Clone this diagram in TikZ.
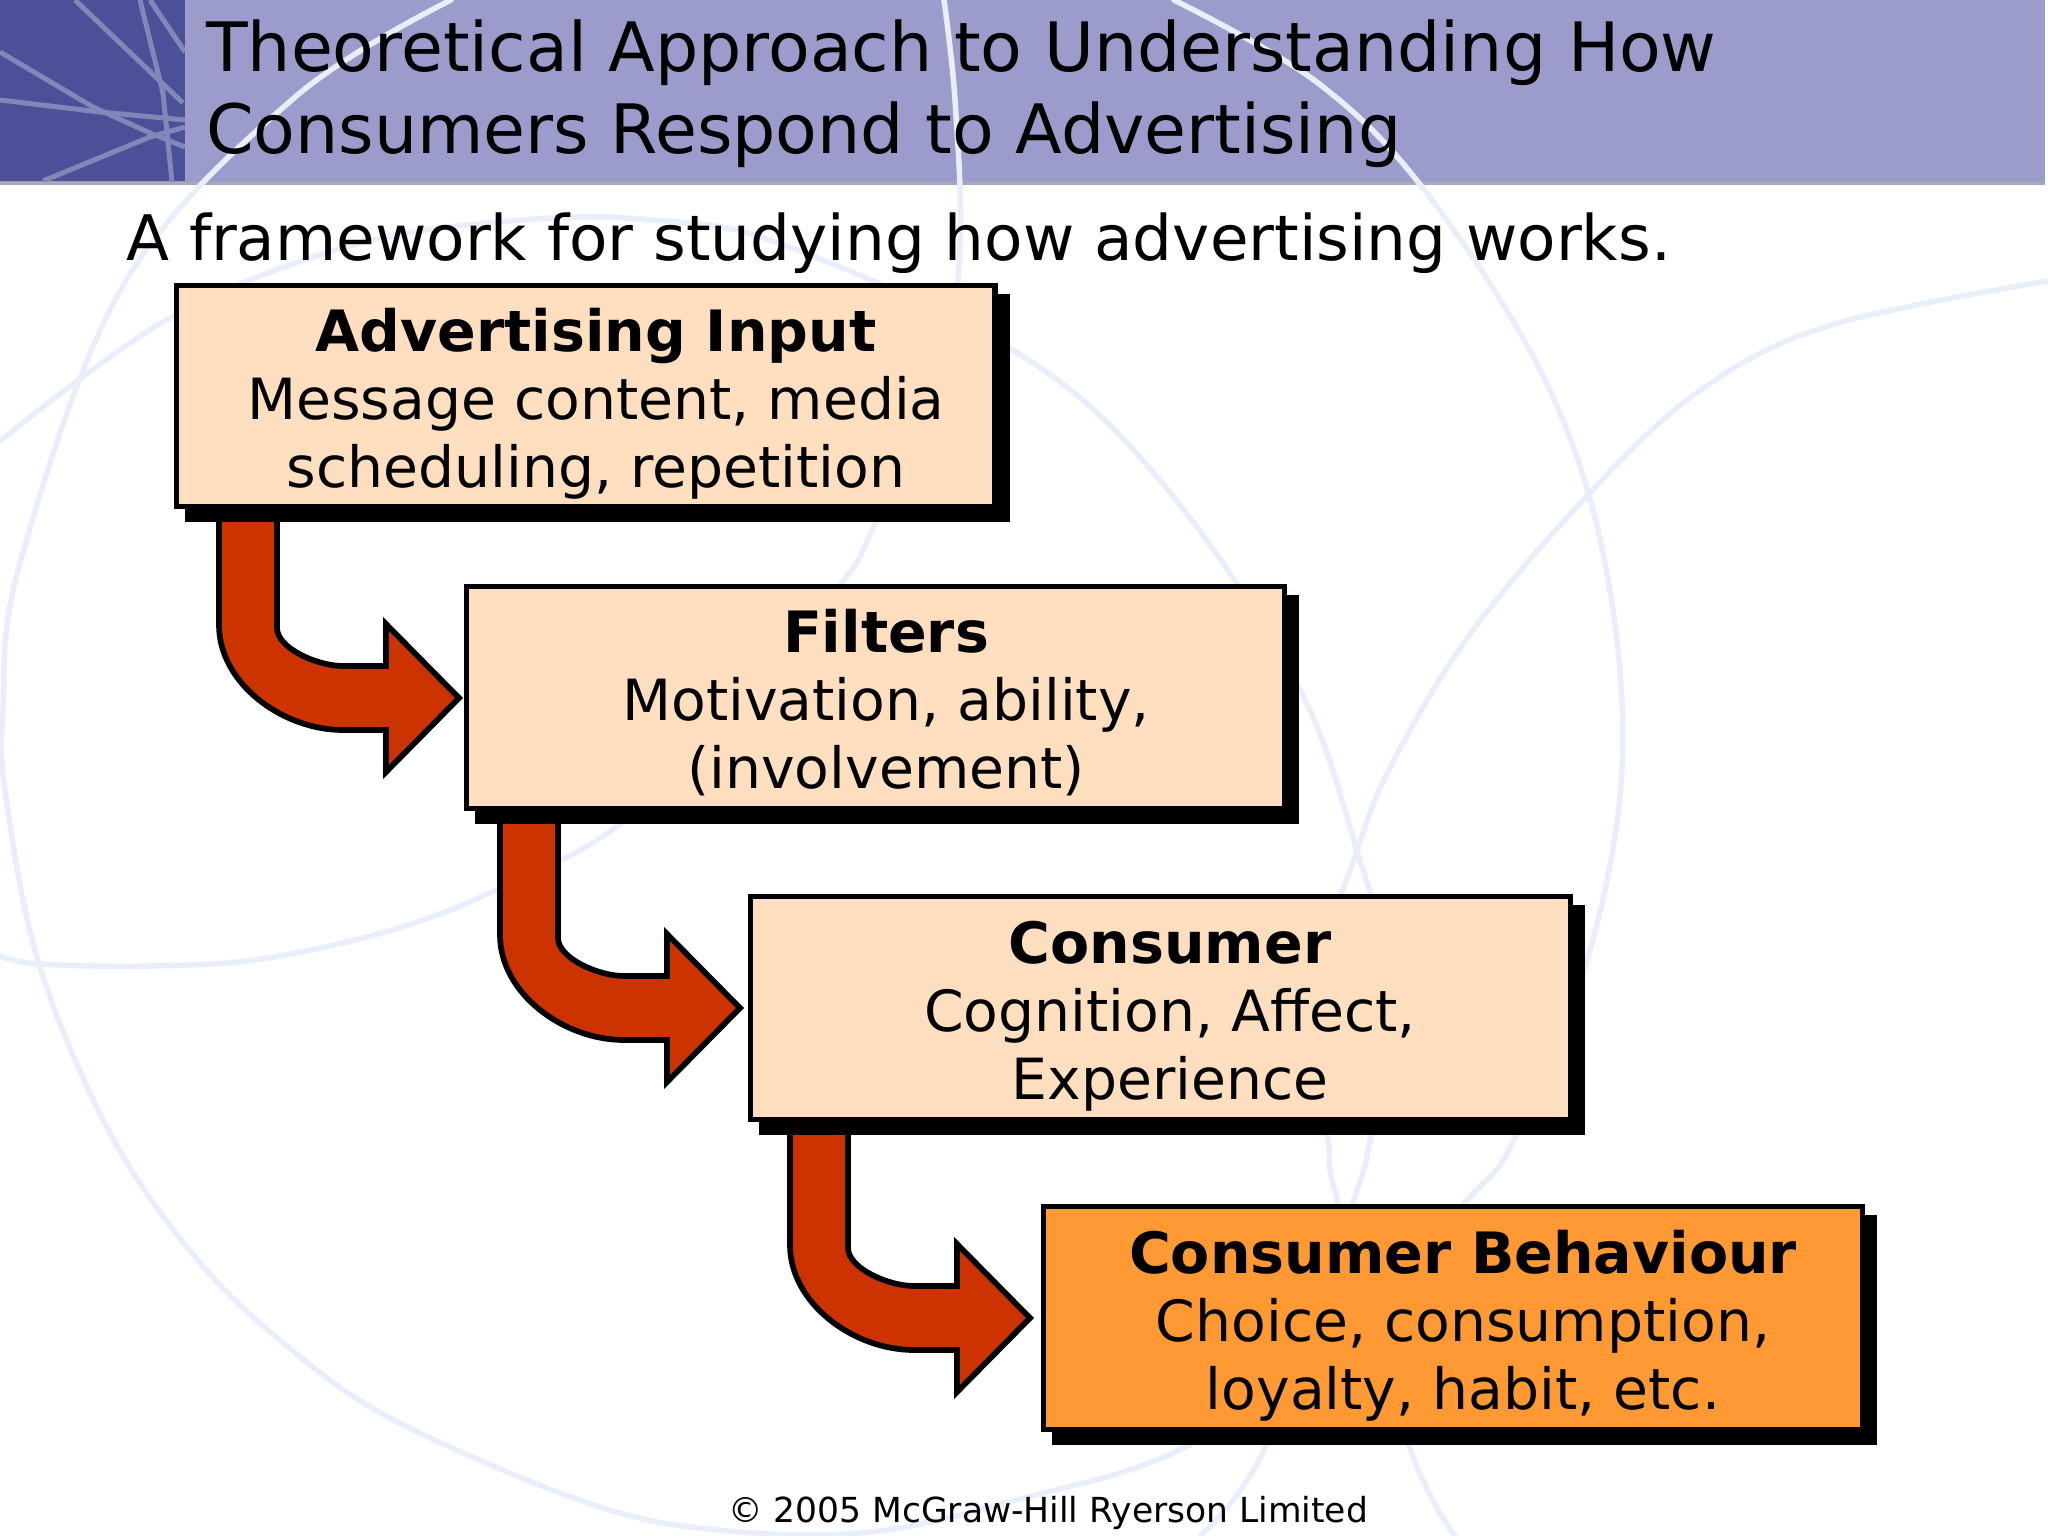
\documentclass[tikz,border=0pt]{standalone}
\usepackage{fontspec}
\setmainfont{DejaVu Sans}
\usetikzlibrary{calc}
\definecolor{bandlight}{HTML}{9C9CCC}
\definecolor{banddark}{HTML}{4C5098}
\definecolor{bandline}{HTML}{A8A8BC}
\definecolor{bandstreak}{HTML}{8287BA}
\definecolor{streak}{HTML}{E9EFFA}
\definecolor{peach}{HTML}{FFDFC0}
\definecolor{amber}{HTML}{FF9933}
\definecolor{rust}{HTML}{CC3300}
\tikzset{
  streakline/.style={draw=streak,line width=5.5pt,line cap=round},
  darkstreak/.style={draw=bandstreak,line width=5pt},
  stagebox/.style={draw=black,line width=5.5pt,fill=peach,inner sep=0pt,outer sep=0pt},
  finalbox/.style={stagebox,fill=amber},
  shadowbox/.style={fill=black,draw=none},
  bentarrow/.style={draw=black,line width=5.7pt,fill=rust,miter limit=10},
  titletext/.style={anchor=west,inner sep=0pt,align=left,font=\fontsize{68.15}{82}\selectfont},
  subtext/.style={anchor=base west,inner sep=0pt,font=\fontsize{62.8}{76}\selectfont},
  stagetext/.style={anchor=center,inner sep=0pt,align=center,font=\fontsize{56.8}{68}\selectfont},
  footertext/.style={anchor=base west,inner sep=0pt,font=\fontsize{34.5}{42}\selectfont}
}
\newcommand{\hd}[1]{{\fontsize{57}{68}\selectfont\bfseries #1}}
\newcommand{\stage}[8]{% name, style, x1, y1, x2, y2, text-x, text-y shift
  \fill[shadowbox] (#3+8.5,#4+8.5) rectangle (#5+14.5,#6+15);
  \node[#2,minimum width=#5pt-#3pt,minimum height=#6pt-#4pt,anchor=north west] (#1) at (#3,#4) {};
  \node[stagetext] (#1-text) at (#7,{(#4+#6)/2+#8}) {\csname stage#1\endcsname};
}
\newcommand{\stageinput}{\hd{Advertising Input}\\Message content, media\\scheduling, repetition}
\newcommand{\stagefilters}{\hd{Filters}\\Motivation, ability,\\(involvement)}
\newcommand{\stageconsumer}{\hd{Consumer}\\Cognition, Affect,\\Experience}
\newcommand{\stagebehaviour}{\hd{Consumer Behaviour}\\Choice, consumption,\\loyalty, habit, etc.}
\newcommand{\bendarrow}[1]{% tip coordinate
  \begin{scope}[shift={(#1)}]
    \draw[bentarrow] (-233,-195) -- (-233,-73)
      .. controls (-233,-15) and (-170,32) .. (-109,32)
      -- (-66,32) -- (-66,74) -- (7,0) -- (-66,-74) -- (-66,-32) -- (-109,-32)
      .. controls (-135,-32) and (-175,-50) .. (-175,-70)
      -- (-175,-195);
  \end{scope}
}
\begin{document}
\begin{tikzpicture}[x=1pt,y=-1pt]
\useasboundingbox (0,0) rectangle (2048,1536);
\fill[white] (0,0) rectangle (2048,1536);
% header band
\fill[bandline] (0,182) rectangle (2045,184.5);
\fill[bandlight] (0,0) rectangle (2045,182);
\fill[banddark] (0,0) rectangle (185,181);
\begin{scope}
  \clip (0,0) rectangle (185,181);
  \draw[darkstreak] (75,0) -- (183,103);
  \draw[darkstreak] (0,52) -- (93,107) -- (150,133) -- (185,147);
  \draw[darkstreak] (0,100) -- (100,112) -- (185,120);
  \draw[darkstreak] (43,181) -- (150,137) -- (185,127);
  \draw[darkstreak] (140,0) -- (163,93) -- (172,182);
  \draw[darkstreak] (150,0) -- (185,52);
\end{scope}
% watermark arcs
\begin{scope}
  \clip (0,0) rectangle (2048,1536);
  \draw[streakline] plot[smooth,tension=0.6] coordinates {(451,0) (294,98) (124,284) (20,563) (3,710) (6,797) (39,964) (111,1135) (196,1258) (281,1341) (392,1419) (588,1503) (718,1530) (870,1532) (1024,1498) (1187,1446) (1340,1330) (1468,1199) (1514,1140) (1586,964) (1622,768) (1605,563) (1546,382) (1429,196) (1318,83) (1174,0)};
  \draw[streakline] plot[smooth,tension=0.6] coordinates {(0,441) (170,318) (353,245) (522,220) (653,220) (784,245) (1024,357) (1168,490) (1298,686) (1357,851) (1395,1000) (1370,1140) (1354,1199) (1266,1446) (1200,1536)};
  \draw[streakline] plot[smooth,tension=0.6] coordinates {(2048,281) (1828,326) (1698,392) (1587,496) (1468,637) (1390,768) (1357,851) (1310,1000) (1328,1140) (1337,1199) (1409,1446) (1455,1536)};
  \draw[streakline] plot[smooth,tension=0.6] coordinates {(0,956) (39,964) (150,966) (261,959) (392,930) (496,890) (620,824) (740,700) (842,583) (875,524) (940,380) (960,250) (955,100) (944,0)};
\end{scope}
% titles
\node[titletext] (title) at (206,94) {Theoretical Approach to Understanding How\\Consumers Respond to Advertising};
\node[subtext] (subtitle) at (126,260) {A framework for studying how advertising works.};
% tips of the arrows, left of their target boxes
\coordinate (tipa) at (452,698);
\coordinate (tipb) at (733,1008);
\coordinate (tipc) at (1023,1318);
\bendarrow{tipa}
\bendarrow{tipb}
\bendarrow{tipc}
% boxes
\stage{input}{stagebox}{176.5}{285.5}{995}{506.5}{596}{8}
\stage{filters}{stagebox}{466.5}{586.5}{1284.5}{808.5}{886}{5.5}
\stage{consumer}{stagebox}{750.5}{896.5}{1570.5}{1119.5}{1170}{8}
\stage{behaviour}{finalbox}{1043.5}{1206.5}{1862.5}{1429.5}{1463}{8}
\node[footertext] (copyright) at (728,1522) {© 2005 McGraw-Hill Ryerson Limited};
\end{tikzpicture}
\end{document}
